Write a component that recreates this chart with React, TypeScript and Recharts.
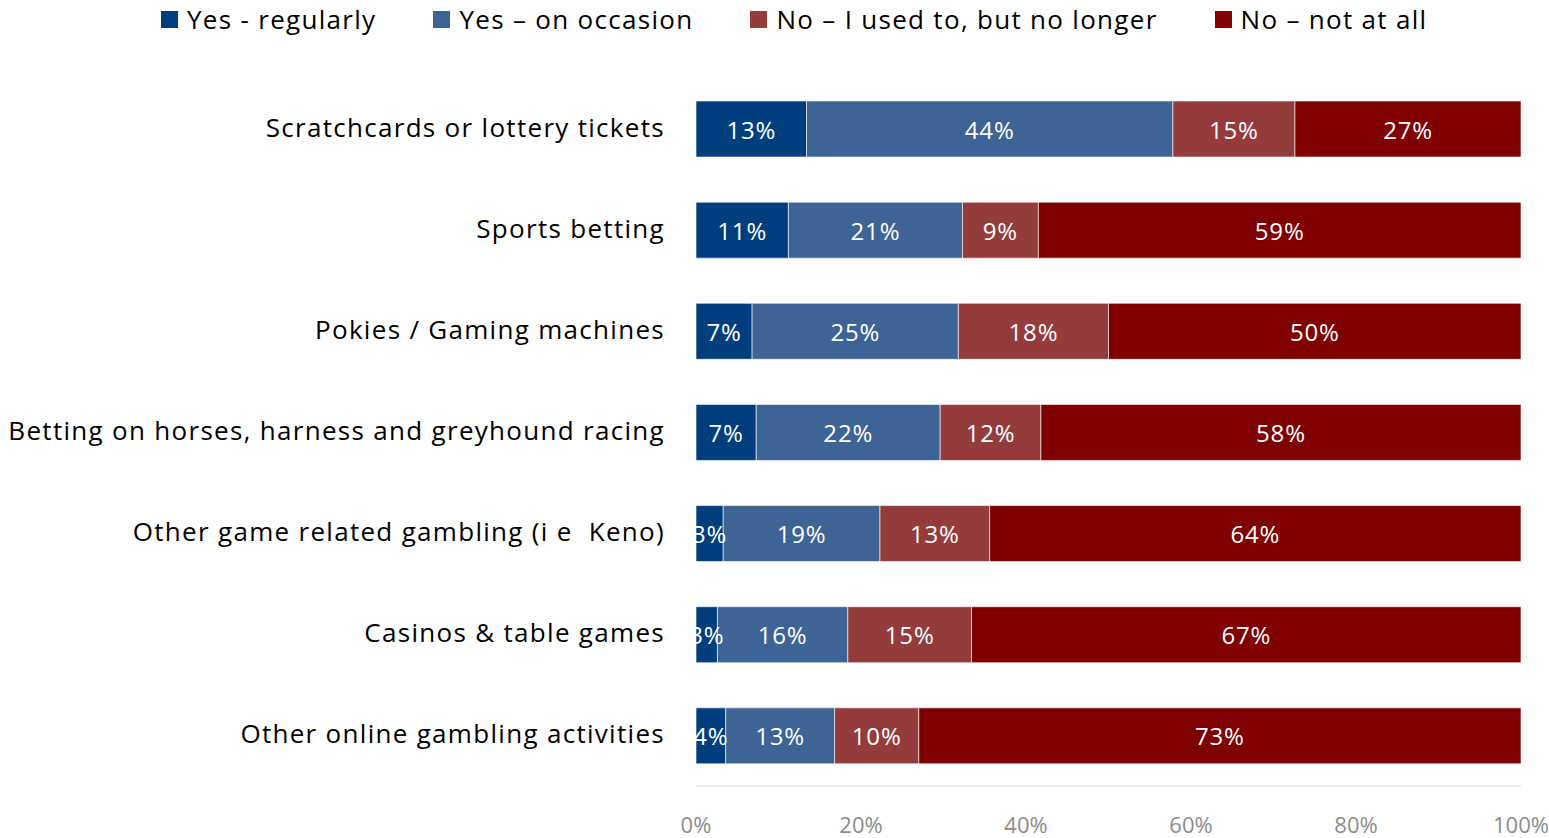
import { BarChart, Bar, XAxis, YAxis, Legend, LabelList } from "recharts";

const CATEGORIES = [
  "Scratchcards or lottery tickets",
  "Sports betting",
  "Pokies / Gaming machines",
  "Betting on horses, harness and greyhound racing",
  "Other game related gambling (i e  Keno)",
  "Casinos & table games",
  "Other online gambling activities",
];

const REGULARLY = [13.4, 11.2, 6.8, 7.3, 3.3, 2.6, 3.6];
const OCCASION = [44.4, 21.1, 25.0, 22.3, 19.0, 15.8, 13.2];
const USED_TO = [14.8, 9.2, 18.2, 12.2, 13.3, 15.0, 10.2];
const NOT_AT_ALL = [27.4, 58.5, 50.0, 58.2, 64.4, 66.6, 73.0];

const X_TICKS = [0, 20, 40, 60, 80, 100];

const SERIES = [
  { key: "regularly", name: "Yes - regularly", color: "#003E7E", values: REGULARLY },
  { key: "occasion", name: "Yes – on occasion", color: "#3D6494", values: OCCASION },
  { key: "usedTo", name: "No – I used to, but no longer", color: "#943C3C", values: USED_TO },
  { key: "notAtAll", name: "No – not at all", color: "#7F0000", values: NOT_AT_ALL },
];

const data = CATEGORIES.map((name, i) => {
  const row: any = { name };
  SERIES.forEach((s) => (row[s.key] = s.values[i]));
  return row;
});

const FONT = "'Open Sans', sans-serif";

const BarLabel = (props: any) => {
  const { x, y, width, height, value, index, clipLeft } = props;
  const id = `clip-lbl-${index}`;
  return (
    <g>
      {clipLeft && (
        <defs>
          <clipPath id={id}>
            <rect x={x} y={y} width={width + 200} height={height} />
          </clipPath>
        </defs>
      )}
      <text
        x={x + width / 2}
        y={y + height / 2}
        fill="#ffffff"
        fontSize={24}
        fontFamily={FONT}
        letterSpacing={0.8}
        textAnchor="middle"
        dominantBaseline="central"
        clipPath={clipLeft ? `url(#${id})` : undefined}
      >
        {Math.round(value)}%
      </text>
    </g>
  );
};

const CategoryTick = (props: any) => {
  const { x, y, payload } = props;
  return (
    <text
      x={x}
      y={y - 2}
      textAnchor="end"
      dominantBaseline="central"
      fill="#000"
      fontSize={26}
      fontFamily={FONT}
      letterSpacing={1.3}
      style={{ whiteSpace: "pre" }}
    >
      {payload.value}
    </text>
  );
};

const LegendContent = () => (
  <div
    style={{
      display: "flex",
      gap: 57,
      fontFamily: FONT,
      fontSize: 26,
      letterSpacing: 1.3,
      height: 38,
      alignItems: "center",
    }}
  >
    {SERIES.map((s) => (
      <div key={s.key} style={{ display: "flex", alignItems: "center", color: "#000" }}>
        <span style={{ width: 17, height: 17, background: s.color, marginRight: 9, display: "inline-block" }} />
        <span>{s.name}</span>
      </div>
    ))}
  </div>
);

export default function App() {
  return (
    <div style={{ position: "absolute", left: 0, top: 0, background: "#fff" }}>
      <BarChart
        width={1549}
        height={838}
        data={data}
        layout="vertical"
        margin={{ top: 40, right: 28, left: 0, bottom: 0 }}
      >
        <Legend
          verticalAlign="top"
          align="left"
          content={<LegendContent />}
          wrapperStyle={{ top: 0, left: 161, height: 38 }}
        />
        <XAxis
          type="number"
          domain={[0, 100]}
          ticks={X_TICKS}
          tickFormatter={(v) => `${v}%`}
          tickSize={0}
          tickMargin={31}
          height={52}
          axisLine={{ stroke: "#d9d9d9" }}
          tick={{ fill: "#8c8c8c", fontSize: 22, fontFamily: FONT }}
        />
        <YAxis
          type="category"
          dataKey="name"
          width={696}
          tickSize={0}
          tickMargin={31}
          axisLine={false}
          tick={<CategoryTick />}
        />
        {SERIES.map((s, si) => (
          <Bar
            key={s.key}
            dataKey={s.key}
            name={s.name}
            stackId="a"
            fill={s.color}
            barSize={56}
            stroke="#ffffff"
            strokeOpacity={0.6}
            strokeWidth={1}
            isAnimationActive={false}
          >
            <LabelList dataKey={s.key} content={<BarLabel clipLeft={si === 0} />} />
          </Bar>
        ))}
      </BarChart>
    </div>
  );
}
